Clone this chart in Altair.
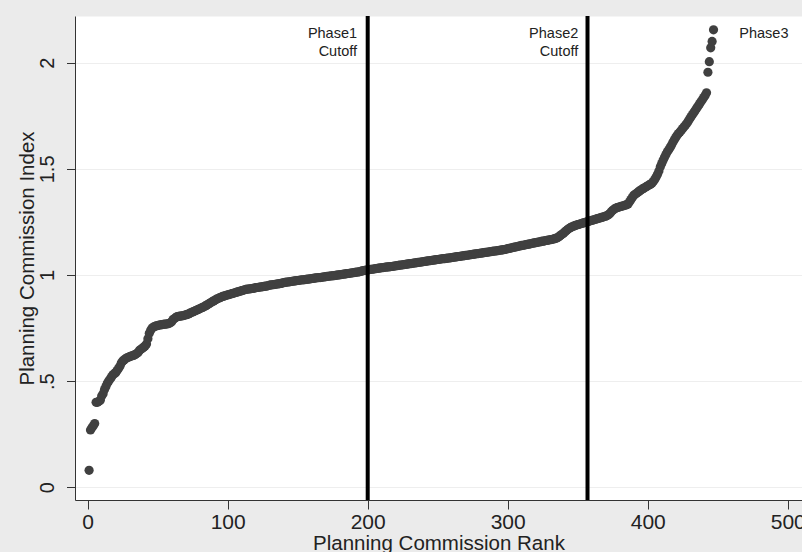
import altair as alt
import pandas as pd

# Planning Commission Index, ordered by rank (rank 1 .. N)
index_values = [
    0.08, 0.27, 0.28, 0.29, 0.30, 0.40, 0.40, 0.405, 0.41, 0.43,
    0.44, 0.46, 0.475, 0.49, 0.50, 0.51, 0.52, 0.53, 0.535, 0.54,
    0.55, 0.56, 0.57, 0.585, 0.595, 0.60, 0.605, 0.61, 0.612, 0.615,
    0.618, 0.62, 0.622, 0.625, 0.63, 0.635, 0.645, 0.65, 0.655, 0.66,
    0.665, 0.675, 0.70, 0.725, 0.74, 0.75, 0.755, 0.758, 0.76, 0.762,
    0.764, 0.765, 0.766, 0.767, 0.768, 0.769, 0.770, 0.771, 0.775, 0.780,
    0.790, 0.795, 0.800, 0.804, 0.805, 0.806, 0.807, 0.808, 0.810, 0.812,
    0.814, 0.816, 0.820, 0.823, 0.826, 0.829, 0.832, 0.835, 0.838, 0.841,
    0.844, 0.847, 0.850, 0.854, 0.858, 0.862, 0.866, 0.870, 0.874, 0.878,
    0.882, 0.886, 0.889, 0.892, 0.895, 0.898, 0.900, 0.902, 0.904, 0.906,
    0.908, 0.910, 0.912, 0.914, 0.916, 0.918, 0.920, 0.922, 0.924, 0.926,
    0.928, 0.930, 0.932, 0.933, 0.934, 0.935, 0.936, 0.937, 0.938, 0.940,
    0.941, 0.942, 0.943, 0.944, 0.945, 0.946, 0.947, 0.948, 0.950, 0.952,
    0.953, 0.954, 0.955, 0.956, 0.957, 0.958, 0.959, 0.960, 0.962, 0.964,
    0.965, 0.966, 0.967, 0.968, 0.969, 0.970, 0.971, 0.972, 0.973, 0.974,
    0.975, 0.976, 0.977, 0.977, 0.978, 0.979, 0.980, 0.981, 0.982, 0.983,
    0.984, 0.985, 0.986, 0.987, 0.988, 0.988, 0.989, 0.990, 0.991, 0.992,
    0.993, 0.994, 0.995, 0.996, 0.996, 0.997, 0.998, 0.999, 1.000, 1.001,
    1.002, 1.003, 1.004, 1.005, 1.006, 1.007, 1.008, 1.009, 1.010, 1.011,
    1.012, 1.013, 1.014, 1.015, 1.017, 1.019, 1.021, 1.022, 1.023, 1.024,
    1.025, 1.026, 1.027, 1.028, 1.029, 1.030, 1.031, 1.032, 1.033, 1.034,
    1.035, 1.036, 1.037, 1.038, 1.038, 1.039, 1.040, 1.041, 1.042, 1.043,
    1.044, 1.045, 1.046, 1.047, 1.048, 1.049, 1.050, 1.051, 1.052, 1.053,
    1.054, 1.055, 1.056, 1.057, 1.058, 1.059, 1.060, 1.061, 1.062, 1.063,
    1.064, 1.065, 1.066, 1.067, 1.068, 1.069, 1.070, 1.071, 1.072, 1.073,
    1.074, 1.075, 1.076, 1.077, 1.077, 1.078, 1.079, 1.080, 1.081, 1.082,
    1.083, 1.084, 1.085, 1.086, 1.087, 1.088, 1.089, 1.090, 1.091, 1.092,
    1.093, 1.094, 1.095, 1.096, 1.097, 1.098, 1.099, 1.100, 1.101, 1.102,
    1.103, 1.104, 1.105, 1.106, 1.107, 1.108, 1.109, 1.110, 1.111, 1.112,
    1.113, 1.114, 1.115, 1.116, 1.117, 1.118, 1.119, 1.120, 1.122, 1.124,
    1.125, 1.127, 1.128, 1.130, 1.131, 1.133, 1.134, 1.136, 1.137, 1.139,
    1.140, 1.141, 1.143, 1.144, 1.145, 1.147, 1.148, 1.150, 1.151, 1.152,
    1.154, 1.155, 1.156, 1.158, 1.159, 1.160, 1.162, 1.163, 1.164, 1.166,
    1.167, 1.168, 1.170, 1.172, 1.174, 1.178, 1.183, 1.188, 1.193, 1.198,
    1.204, 1.210, 1.215, 1.220, 1.224, 1.227, 1.230, 1.232, 1.235, 1.237,
    1.239, 1.241, 1.243, 1.245, 1.247, 1.249, 1.251, 1.253, 1.255, 1.257,
    1.259, 1.261, 1.263, 1.265, 1.267, 1.269, 1.271, 1.273, 1.275, 1.277,
    1.280, 1.284, 1.290, 1.298, 1.305, 1.310, 1.314, 1.317, 1.319, 1.321,
    1.323, 1.325, 1.327, 1.329, 1.331, 1.335, 1.345, 1.355, 1.365, 1.375,
    1.380, 1.385, 1.390, 1.395, 1.400, 1.404, 1.408, 1.412, 1.416, 1.420,
    1.424, 1.428, 1.432, 1.440, 1.450, 1.462, 1.475, 1.490, 1.510, 1.525,
    1.540, 1.555, 1.568, 1.580, 1.590, 1.600, 1.612, 1.625, 1.637, 1.648,
    1.658, 1.666, 1.674, 1.682, 1.690, 1.698, 1.706, 1.715, 1.725, 1.736,
    1.746, 1.756, 1.766, 1.776, 1.786, 1.796, 1.806, 1.816, 1.826, 1.836,
    1.846, 1.858, 1.955, 2.005, 2.070, 2.100, 2.155,
]
ranks = list(range(1, len(index_values) + 1))

# Phase cut-off ranks
cutoff_ranks = [200, 357]

# Annotations (data coordinates)
right_text = ["Phase1", "Cutoff", "Phase2", "Cutoff"]
right_x = [192.4, 192.4, 350.4, 350.4]
right_y = [2.118, 2.032, 2.118, 2.032]
left_text = ["Phase3"]
left_x = [465.4]
left_y = [2.118]

x_ticks = [0, 100, 200, 300, 400, 500]
y_ticks = [0, 0.5, 1, 1.5, 2]

FONT = "Liberation Sans"

pts = pd.DataFrame({"rank": ranks, "value": index_values})
cuts = pd.DataFrame({"rank": cutoff_ranks})
ann_r = pd.DataFrame({"rank": right_x, "value": right_y, "text": right_text})
ann_l = pd.DataFrame({"rank": left_x, "value": left_y, "text": left_text})

x_scale = alt.Scale(domain=[-9.07, 510.2], nice=False, zero=False)
y_scale = alt.Scale(domain=[-0.06, 2.22], nice=False, zero=False)

x_enc = alt.X(
    "rank:Q",
    scale=x_scale,
    axis=alt.Axis(
        values=x_ticks,
        title="Planning Commission Rank",
        grid=False,
        tickSize=9,
        labelFontSize=21,
        labelPadding=2,
        labelFlush=False,
        labelOverlap=False,
        labelFont=FONT,
        labelColor="#222222",
        titleFont=FONT,
        titleFontSize=20.5,
        titleFontWeight="normal",
        titleColor="#222222",
        titleBaseline="alphabetic",
        titleY=49.5,
        titleX=363.5,
        titleAlign="center",
        domainColor="#333333",
        tickColor="#333333",
    ),
)

y_enc = alt.Y(
    "value:Q",
    scale=y_scale,
    axis=alt.Axis(
        values=y_ticks,
        labelExpr="datum.value == 0.5 ? '.5' : format(datum.value, '~g')",
        title="Planning Commission Index",
        grid=True,
        gridColor="#eeeeee",
        gridWidth=1,
        tickSize=8.5,
        labelAngle=270,
        labelAlign="center",
        labelBaseline="alphabetic",
        labelPadding=13,
        labelFontSize=20,
        labelFont=FONT,
        labelColor="#222222",
        labelOverlap=False,
        labelFlush=False,
        titleFont=FONT,
        titleFontSize=20.5,
        titleFontWeight="normal",
        titleColor="#222222",
        titleAngle=270,
        titleBaseline="alphabetic",
        titleAlign="center",
        titleX=-41.5,
        titleY=242,
        domainColor="#333333",
        tickColor="#333333",
    ),
)

points = alt.Chart(pts).mark_circle(size=85, color="#404040", opacity=1).encode(
    x=x_enc, y=y_enc
)

rules = alt.Chart(cuts).mark_rule(color="black", strokeWidth=4).encode(
    x=alt.X("rank:Q", scale=x_scale)
)

txt_r = alt.Chart(ann_r).mark_text(
    align="right", baseline="alphabetic", font=FONT, fontSize=14.5, color="#222222"
).encode(
    x=alt.X("rank:Q", scale=x_scale),
    y=alt.Y("value:Q", scale=y_scale),
    text="text:N",
)

txt_l = alt.Chart(ann_l).mark_text(
    align="left", baseline="alphabetic", font=FONT, fontSize=14.5, color="#222222"
).encode(
    x=alt.X("rank:Q", scale=x_scale),
    y=alt.Y("value:Q", scale=y_scale),
    text="text:N",
)

chart = (
    alt.layer(points, rules, txt_r, txt_l)
    .properties(
        width=727,
        height=484,
        padding={"left": 75, "top": 16, "right": 0, "bottom": 52},
        autosize=alt.AutoSizeParams(type="none"),
        background="#ebebeb",
    )
    .configure_view(fill="white", stroke="transparent")
)

chart.save("out.html", embed_options={"renderer": "svg", "actions": False})
